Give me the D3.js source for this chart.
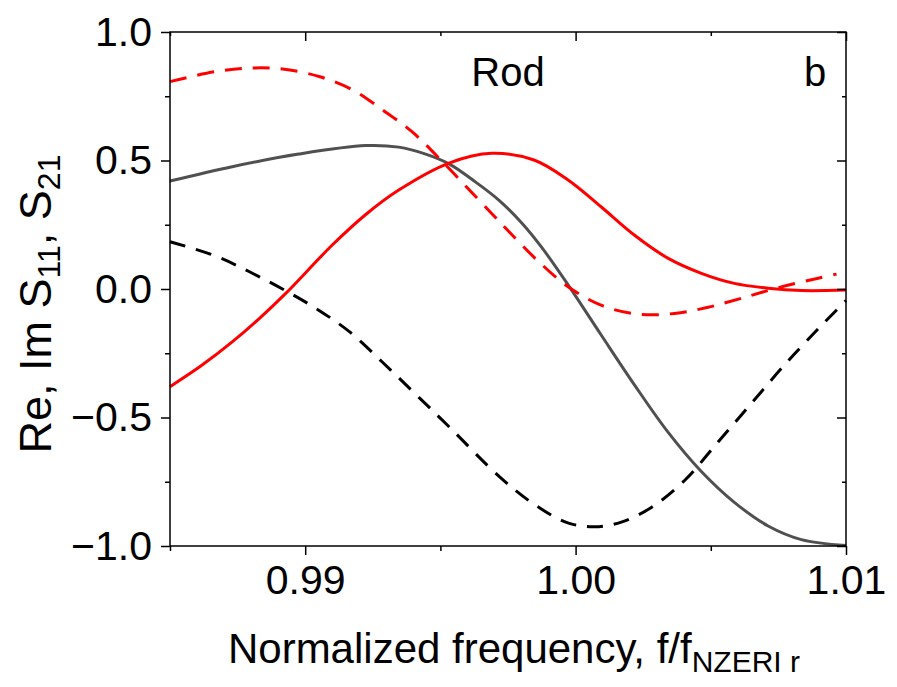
<html>
<head>
<script src="https://d3js.org/d3.v7.min.js"></script>
<style>
  body { margin: 0; background: #fff; }
  text { font-family: "Liberation Sans", Arial, sans-serif; fill: #000; }
</style>
</head>
<body>
<div id="chart"></div>
<script>
// data
var reS21F = [0.985, 0.9873, 0.98976, 0.99224, 0.99346, 0.9944, 0.99532, 0.99625, 0.99717, 0.998, 0.99874, 0.99971, 1.00094, 1.00217, 1.00341, 1.00465, 1.00587, 1.00712, 1.00835, 1.01];
var reS21V = [0.42, 0.476, 0.525, 0.558, 0.552, 0.527, 0.487, 0.42, 0.345, 0.258, 0.163, 0.018, -0.178, -0.372, -0.556, -0.71, -0.83, -0.922, -0.975, -0.998];

var imS21F = [0.985, 0.98669, 0.98792, 0.98916, 0.99039, 0.99162, 0.99286, 0.99409, 0.99533, 0.99718, 0.99847, 0.99971, 1.0007, 1.00169, 1.0028, 1.00403, 1.00527, 1.0065, 1.00773, 1.00897, 1.01];
var imS21V = [0.184, 0.128, 0.068, 0.0, -0.075, -0.165, -0.285, -0.41, -0.537, -0.73, -0.838, -0.91, -0.925, -0.907, -0.85, -0.745, -0.595, -0.445, -0.295, -0.155, -0.045];

var reS11F = [0.985, 0.98615, 0.9873, 0.98829, 0.98928, 0.99101, 0.99224, 0.99346, 0.99532, 0.99690, 0.99846, 0.99971, 1.00094, 1.00217, 1.00341, 1.00465, 1.00587, 1.00712, 1.00835, 1.01];
var reS11V = [-0.38, -0.299, -0.206, -0.116, -0.017, 0.172, 0.29, 0.385, 0.49, 0.528, 0.502, 0.425, 0.32, 0.21, 0.12, 0.061, 0.022, 0.003, -0.006, -0.004];

var imS11F = [0.985, 0.98669, 0.98804, 0.98916, 0.99051, 0.99175, 0.99286, 0.99397, 0.99508, 0.99594, 0.99693, 0.99761, 0.9986, 0.99971, 1.00094, 1.0023, 1.00366, 1.0049, 1.00613, 1.00749, 1.00897, 1.00965];
var imS11V = [0.807, 0.846, 0.86, 0.856, 0.827, 0.775, 0.697, 0.61, 0.495, 0.4, 0.29, 0.215, 0.11, 0.01, -0.063, -0.098, -0.095, -0.071, -0.036, 0.005, 0.042, 0.058];

var xMajor = [0.99, 1.00, 1.01];
var xMinor = [0.985, 0.995, 1.005];
var xLabels = ["0.99", "1.00", "1.01"];
var yMajor = [-1, -0.5, 0, 0.5, 1];
var yMinor = [-0.75, -0.25, 0.25, 0.75];
var yLabels = ["\u22121.0", "\u22120.5", "0.0", "0.5", "1.0"];

var width = 897, height = 687;
var pL = 170, pR = 846, pT = 32, pB = 546;

var svg = d3.select("#chart").append("svg")
  .attr("width", width).attr("height", height);

var x = d3.scaleLinear().domain([0.985, 1.01]).range([pL, pR]);
var y = d3.scaleLinear().domain([-1, 1]).range([pB, pT]);

function pairs(f, v) {
  return f.map(function(d, i) { return [d, v[i]]; });
}

var line = d3.line()
  .curve(d3.curveCatmullRom.alpha(0.5))
  .x(function(d) { return x(d[0]); })
  .y(function(d) { return y(d[1]); });

var plot = svg.append("g");

plot.append("path").attr("d", line(pairs(reS21F, reS21V)))
  .attr("fill", "none").attr("stroke", "#505050").attr("stroke-width", 3);
plot.append("path").attr("d", line(pairs(imS21F, imS21V)))
  .attr("fill", "none").attr("stroke", "#000").attr("stroke-width", 3)
  .attr("stroke-dasharray", "16,11");
plot.append("path").attr("d", line(pairs(reS11F, reS11V)))
  .attr("fill", "none").attr("stroke", "#ff0000").attr("stroke-width", 3);
plot.append("path").attr("d", line(pairs(imS11F, imS11V)))
  .attr("fill", "none").attr("stroke", "#ff0000").attr("stroke-width", 3)
  .attr("stroke-dasharray", "17,11");

// axes
var xAxis = d3.axisBottom(x).tickValues(xMajor).tickSize(9).tickPadding(10)
  .tickFormat(function(d, i) { return xLabels[i]; });
svg.append("g").attr("transform", "translate(0," + pB + ")").call(xAxis);
svg.append("g").attr("transform", "translate(0," + pB + ")")
  .call(d3.axisBottom(x).tickValues(xMinor).tickSize(5).tickFormat(""));

var yAxis = d3.axisLeft(y).tickValues(yMajor).tickSize(9).tickPadding(9)
  .tickFormat(function(d, i) { return yLabels[i]; });
svg.append("g").attr("transform", "translate(" + pL + ",0)").call(yAxis);
svg.append("g").attr("transform", "translate(" + pL + ",0)")
  .call(d3.axisLeft(y).tickValues(yMinor).tickSize(5).tickFormat(""));

// mirrored inner ticks on top and right
svg.append("g").attr("transform", "translate(0," + pT + ")")
  .call(d3.axisTop(x).tickValues(xMajor).tickSize(-9).tickFormat(""));
svg.append("g").attr("transform", "translate(0," + pT + ")")
  .call(d3.axisTop(x).tickValues(xMinor).tickSize(-4).tickFormat(""));
svg.append("g").attr("transform", "translate(" + pR + ",0)")
  .call(d3.axisRight(y).tickValues(yMajor).tickSize(-9).tickFormat(""));
svg.append("g").attr("transform", "translate(" + pR + ",0)")
  .call(d3.axisRight(y).tickValues(yMinor).tickSize(-4).tickFormat(""));

svg.selectAll(".domain").remove();
svg.selectAll(".tick line").attr("stroke", "#000").attr("stroke-width", 1.5);
svg.selectAll(".tick text").style("font-size", "41px")
  .style("font-family", "'Liberation Sans', Arial, sans-serif");

svg.append("rect")
  .attr("x", pL).attr("y", pT)
  .attr("width", pR - pL).attr("height", pB - pT)
  .attr("fill", "none").attr("stroke", "#000").attr("stroke-width", 1.5);

// labels
svg.append("text").attr("x", 508).attr("y", 86).attr("text-anchor", "middle")
  .style("font-size", "40px").text("Rod");
svg.append("text").attr("x", 815).attr("y", 86).attr("text-anchor", "middle")
  .style("font-size", "40px").text("b");

var xt = svg.append("text").attr("x", 514).attr("y", 663).attr("text-anchor", "middle")
  .style("font-size", "42px");
xt.append("tspan").text("Normalized frequency, f/f");
xt.append("tspan").attr("dy", 9).style("font-size", "30px").text("NZERI r");

var yt = svg.append("text")
  .attr("transform", "translate(51,304) rotate(-90)")
  .attr("text-anchor", "middle").style("font-size", "45px");
yt.append("tspan").text("Re, Im S");
yt.append("tspan").attr("dy", 9).style("font-size", "32px").text("11");
yt.append("tspan").attr("dy", -9).text(", S");
yt.append("tspan").attr("dy", 9).style("font-size", "32px").text("21");
</script>
</body>
</html>
